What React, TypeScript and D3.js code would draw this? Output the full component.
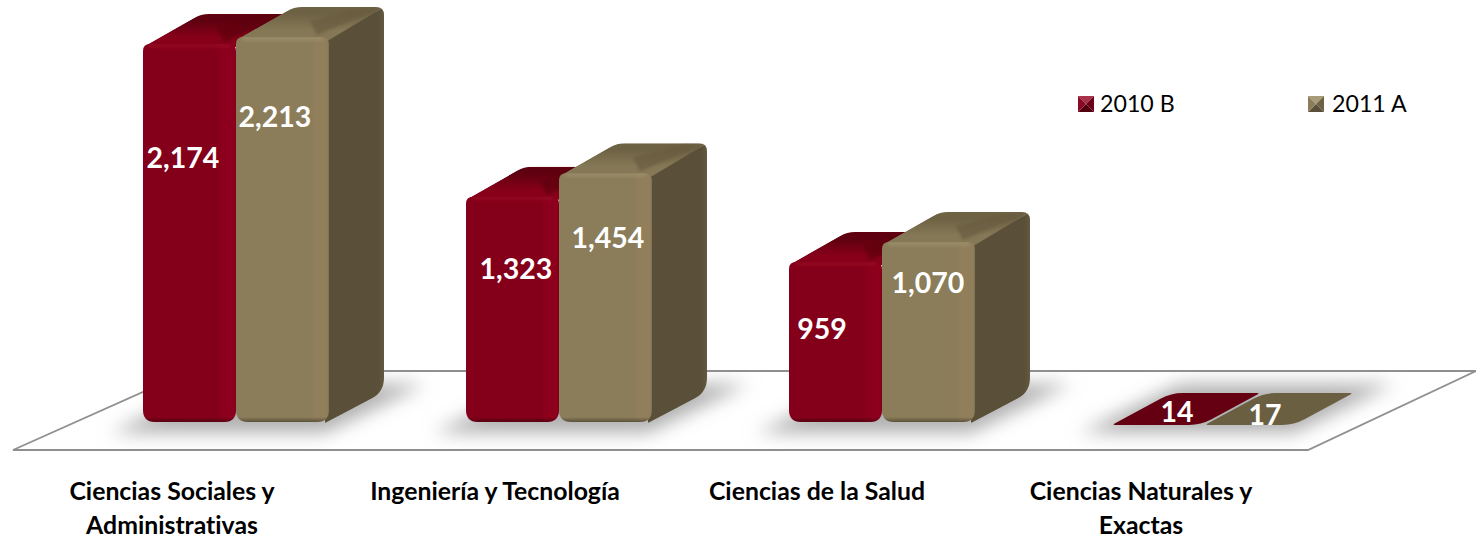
import React from "react";
import * as d3 from "d3";

const categories = [
  ["Ciencias Sociales y", "Administrativas"],
  ["Ingeniería y Tecnología"],
  ["Ciencias de la Salud"],
  ["Ciencias Naturales y", "Exactas"],
];
const series = ["2010 B", "2011 A"];
const values2010B = [2174, 1323, 959, 14];
const values2011A = [2213, 1454, 1070, 17];
const valueFormat = d3.format(",");

const W = 1476;
const H = 539;
const BAR_W = 93;
const DX = 55;
const DY = -30;
const BASE = 422;
const FLAT = 425;
const FONT = "Lato, Carlito, Calibri, sans-serif";

const y = d3.scaleLinear().domain([0, 2213]).range([434, 37]);
const x = d3.scalePoint<number>().domain([0, 1, 2, 3]).range([143, 1112]);

// label centre offsets relative to the bar: [dx from bar left, dy from bar top]
const labelOffsets = [
  [[40, 113], [39, 79]],
  [[50, 71], [49, 64]],
  [[33, 66], [46, 40]],
  [[65, -14], [60, -11]],
];

const palette = [
  { front: "#84001a", edge: "#8c001d", topA: "#86001a", topB: "#5e000f", wedge: "#5f0010", side: "#5a0010", flat: "#650012", hi: "#9c0a28" },
  { front: "#8b7d5a", edge: "#917f5c", topA: "#857856", topB: "#6e6244", wedge: "#675b3f", side: "#5a4f38", flat: "#6b5f42", hi: "#a39772" },
];

function roundPoly(pts: number[][], radii: number[]) {
  const n = pts.length;
  const path = d3.path();
  pts.forEach((p, i) => {
    const prev = pts[(i + n - 1) % n];
    const next = pts[(i + 1) % n];
    const r = radii[i];
    const l1 = Math.hypot(prev[0] - p[0], prev[1] - p[1]);
    const l2 = Math.hypot(next[0] - p[0], next[1] - p[1]);
    const a = [p[0] + ((prev[0] - p[0]) * r) / l1, p[1] + ((prev[1] - p[1]) * r) / l1];
    const b = [p[0] + ((next[0] - p[0]) * r) / l2, p[1] + ((next[1] - p[1]) * r) / l2];
    if (i === 0) path.moveTo(a[0], a[1]);
    else path.lineTo(a[0], a[1]);
    path.quadraticCurveTo(p[0], p[1], b[0], b[1]);
  });
  path.closePath();
  return path.toString();
}

function Bar({ gx, s, value, id }: { gx: number; s: number; value: number; id: string }) {
  const c = palette[s];
  const xl = gx + s * BAR_W;
  const xr = xl + BAR_W;
  const yt = y(value);
  if (yt > FLAT - 2) {
    const d = roundPoly(
      [[xl, FLAT], [xr - 4, FLAT], [xr + DX, FLAT - 32], [xl + DX + 4, FLAT - 32]],
      [3, 12, 3, 12]
    );
    return <path d={d} fill={c.flat} />;
  }
  const front = roundPoly([[xl, yt], [xr, yt], [xr, BASE], [xl, BASE]], [7, 7, 12, 12]);
  const silhouette = roundPoly(
    [[xl, yt + 3], [xl + DX + 3, yt + DY], [xr + DX, yt + DY], [xr + DX, BASE + DY], [xr - 4, BASE + 1], [xl, BASE]],
    [6, 8, 8, 14, 1, 1]
  );
  const topPts = `${xl},${yt + 3} ${xr},${yt + 3} ${xr + DX},${yt + DY} ${xl + DX + 3},${yt + DY}`;
  const sidePts = `${xr - 4},${yt + 3} ${xr + DX},${yt + DY} ${xr + DX},${BASE + DY} ${xr - 4},${BASE + 2}`;
  const wedge = `M${xr - 12},${yt - 2}L${xr - 19},${yt - 16}L${xr + 34},${yt + DY + 1}L${xr + 50},${yt + DY + 2}Z`;
  return (
    <g>
      <clipPath id={`clip-${id}`}><path d={front} /></clipPath>
      <clipPath id={`sil-${id}`}><path d={silhouette} /></clipPath>
      <g clipPath={`url(#sil-${id})`}>
        {s === 1 && <polygon points={sidePts} fill={`url(#side-${s})`} />}
        <polygon points={topPts} fill={`url(#top-${s})`} />
        <path d={wedge} fill={c.wedge} filter="url(#soft1)" opacity={0.7} />
      </g>
      <path d={front} fill={`url(#front-${s})`} />
      <g clipPath={`url(#clip-${id})`}>
        <rect x={xl + 6} y={yt - 1} width={BAR_W - 12} height={5} fill={c.hi} opacity={0.5} filter="url(#soft1)" />
        <rect x={xl - 2} y={BASE - 5} width={BAR_W + 4} height={5} fill="url(#bottomShade)" />
      </g>
    </g>
  );
}

export default function App() {
  const floorPts = "13,450 1308,450 1476,371 190,371";
  const shadows = categories.map((_, i) => {
    const g = x(i) as number;
    return `${g - 32},433 ${g + 182},433 ${g + 282},384 ${g + 68},384`;
  });
  return (
    <svg
      width={W}
      height={H}
      style={{ position: "absolute", left: 0, top: 0, display: "block", fontVariantLigatures: "none" }}
      fontFamily={FONT}
    >
      <defs>
        <filter id="blur" x="-30%" y="-80%" width="160%" height="260%"><feGaussianBlur stdDeviation="9" /></filter>
        <filter id="soft1" x="-30%" y="-100%" width="160%" height="300%"><feGaussianBlur stdDeviation="1.5" /></filter>
        <clipPath id="floorClip"><polygon points={floorPts} /></clipPath>
        <linearGradient id="bottomShade" x1="0" x2="0" y1="0" y2="1">
          <stop offset="0" stopColor="#000" stopOpacity="0" />
          <stop offset="1" stopColor="#000" stopOpacity="0.35" />
        </linearGradient>
        {palette.map((c, s) => (
          <React.Fragment key={s}>
            <linearGradient id={`front-${s}`} x1="0" x2="1" y1="0" y2="0">
              <stop offset="0" stopColor={c.front} />
              <stop offset="0.8" stopColor={c.front} />
              <stop offset="0.86" stopColor={c.edge} />
              <stop offset="0.98" stopColor={c.edge} />
              <stop offset="1" stopColor={s === 0 ? "#7f0019" : "#7d7051"} />
            </linearGradient>
            <linearGradient id={`top-${s}`} x1="0" x2="0" y1="1" y2="0">
              <stop offset="0" stopColor={c.topA} />
              <stop offset="0.3" stopColor={c.topA} />
              <stop offset="0.8" stopColor={c.topB} />
              <stop offset="1" stopColor={c.topB} />
            </linearGradient>
            <linearGradient id={`side-${s}`} x1="0" x2="1" y1="0" y2="0">
              <stop offset="0" stopColor={c.side} />
              <stop offset="0.9" stopColor={c.side} />
              <stop offset="1" stopColor={s === 0 ? "#6a0014" : "#635840"} />
            </linearGradient>
          </React.Fragment>
        ))}
      </defs>

      <polygon points={floorPts} fill="#fff" />
      <g clipPath="url(#floorClip)">
        {shadows.map((p, i) => (
          <polygon key={i} points={p} fill="#b0b0b0" filter="url(#blur)" />
        ))}
      </g>
      <polygon points={floorPts} fill="none" stroke="#8f8f8f" strokeWidth={1.8} />

      {categories.map((_, i) => {
        const g = x(i) as number;
        return (
          <g key={i}>
            <Bar gx={g} s={0} value={values2010B[i]} id={`a${i}`} />
            <Bar gx={g} s={1} value={values2011A[i]} id={`b${i}`} />
          </g>
        );
      })}

      {categories.map((_, i) => {
        const g = x(i) as number;
        return [values2010B[i], values2011A[i]].map((v, s) => (
          <text
            key={`${i}-${s}`}
            x={g + s * BAR_W + labelOffsets[i][s][0]}
            y={Math.min(y(v), FLAT) + labelOffsets[i][s][1]}
            textAnchor="middle"
            dominantBaseline="central"
            fill="#fff"
            fontWeight={700}
            fontSize={28.5}
          >
            {valueFormat(v)}
          </text>
        ));
      })}

      {categories.map((lines, i) => {
        const cx = [172, 495, 817, 1141][i];
        return (
          <text key={i} textAnchor="middle" fontWeight={700} fontSize={24.8} fill="#000">
            {lines.map((t, k) => (
              <tspan key={k} x={cx} y={500 + k * 34}>{t}</tspan>
            ))}
          </text>
        );
      })}

      {series.map((name, s) => {
        const lx = [1078, 1308][s];
        const ly = 96;
        const sz = 16;
        const c = s === 0
          ? ["#a8324a", "#6d0016", "#520010", "#8a0a24"]
          : ["#a89c78", "#6e6244", "#5a4f38", "#8b7d5a"];
        const m = [lx + sz / 2, ly + sz / 2];
        const corners = [[lx, ly], [lx + sz, ly], [lx + sz, ly + sz], [lx, ly + sz]];
        return (
          <g key={name}>
            {corners.map((p, k) => {
              const q = corners[(k + 1) % 4];
              return <polygon key={k} points={`${p} ${q} ${m}`} fill={c[k]} />;
            })}
            <text x={lx + (s === 0 ? 22 : 24)} y={112} fontSize={23.2} fill="#000">{name}</text>
          </g>
        );
      })}
    </svg>
  );
}
